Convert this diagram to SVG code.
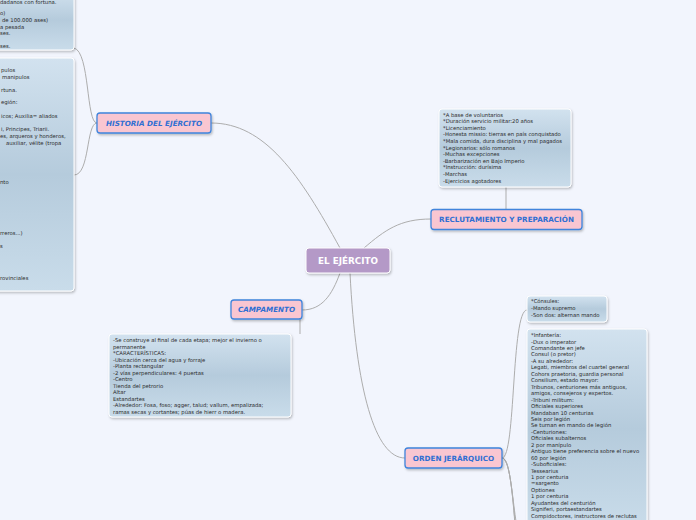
<svg xmlns="http://www.w3.org/2000/svg" width="696" height="520" viewBox="0 0 696 520">
<defs>
<linearGradient id="bx" x1="0" y1="0" x2="0" y2="1">
<stop offset="0" stop-color="#d2e2ef"/>
<stop offset="0.5" stop-color="#b5cbdc"/>
<stop offset="1" stop-color="#c9dcea"/>
</linearGradient>
<filter id="sh" x="-10%" y="-10%" width="130%" height="140%">
<feDropShadow dx="1" dy="1.5" stdDeviation="1" flood-color="#000" flood-opacity="0.25"/>
</filter>
</defs>
<style>
.bg{fill:#f2f5fd}
.box{fill:url(#bx);stroke:#ffffff;stroke-width:1;filter:url(#sh)}
.bt{font-family:"DejaVu Sans",Verdana,sans-serif;font-size:5.3px;fill:#2a2a2a}
.node{fill:#f9c6d1;stroke:#3f84dc;stroke-width:1.3;filter:url(#sh)}
.nt{font-family:"DejaVu Sans",Verdana,sans-serif;font-size:7.2px;font-weight:bold;fill:#2f6fd3;text-anchor:middle}
.it{font-style:italic}
.root{fill:#b499c7;stroke:#ffffff;stroke-width:1;filter:url(#sh)}
.rt{font-family:"DejaVu Sans",Verdana,sans-serif;font-size:8.8px;font-weight:bold;fill:#ffffff;text-anchor:middle}
.c{fill:none;stroke:#adadad;stroke-width:1}
</style>
<rect class="bg" x="0" y="0" width="696" height="520"/>

<g id="connectors">
<path class="c" d="M340,248 C 300,175 265,123 211,123"/>
<path class="c" d="M364,248 C 385,230 400,219 431,219"/>
<path class="c" d="M340,273 C 332,295 322,310 302,310"/>
<path class="c" d="M350,273 C 356,390 375,458 405,458"/>
<path class="c" d="M506,187 L506,209"/>
<path class="c" d="M300,319 L300,334"/>
<path class="c" d="M97,123 C 86,123 90,52 74,48"/>
<path class="c" d="M97,123 C 86,123 90,175 74,175"/>
<path class="c" d="M502,458 C 516,458 511,310 527,310"/>
<path class="c" d="M502,458 C 514,458 512,540 527,560"/>
<path class="c" d="M502,458 C 515,458 514,560 527,620"/>
<path class="c" d="M502,458 C 516,458 516,580 527,700"/>
</g>

<g id="box-historia-1">
<rect class="box" x="-10" y="-10" width="84" height="60" rx="3"/>
<text class="bt" x="0" y="4">dadanos con fortuna.</text>
<text class="bt" x="0" y="15">o)</text>
<text class="bt" x="2" y="22">de 100.000 ases)</text>
<text class="bt" x="0" y="29">a pesada</text>
<text class="bt" x="0" y="35">ses.</text>
<text class="bt" x="0" y="48">ses.</text>
</g>

<g id="box-historia-2">
<rect class="box" x="-10" y="58" width="84" height="233" rx="3"/>
<text class="bt" x="1" y="72">pulos</text>
<text class="bt" x="2" y="79">manipulos</text>
<text class="bt" x="1" y="92">rtuna.</text>
<text class="bt" x="1" y="104">egión:</text>
<text class="bt" x="1" y="118">icos; Auxilia= aliados</text>
<text class="bt" x="1" y="131">i, Principes, Triarii.</text>
<text class="bt" x="0" y="138">es, arqueros y honderos,</text>
<text class="bt" x="6" y="145">auxiliar, vélite (tropa</text>
<text class="bt" x="0" y="184">nto</text>
<text class="bt" x="0" y="235">rreros...)</text>
<text class="bt" x="0" y="248">s</text>
<text class="bt" x="0" y="280">rovinciales</text>
</g>

<g id="box-reclutamiento">
<rect class="box" x="439" y="109" width="132" height="78" rx="3"/>
<text class="bt" x="443" y="116.5">*A base de voluntarios</text>
<text class="bt" x="443" y="123.1">*Duración servicio militar:20 años</text>
<text class="bt" x="443" y="129.7">*Licenciamiento</text>
<text class="bt" x="443" y="136.3">-Honesta missio: tierras en país conquistado</text>
<text class="bt" x="443" y="142.9">*Mala comida, dura disciplina y mal pagados</text>
<text class="bt" x="443" y="149.5">*Legionarios: sólo romanos</text>
<text class="bt" x="443" y="156.1">-Muchas excepciones</text>
<text class="bt" x="443" y="162.7">-Barbarización en Bajo Imperio</text>
<text class="bt" x="443" y="169.3">*Instrucción: durísima</text>
<text class="bt" x="443" y="175.9">-Marchas</text>
<text class="bt" x="443" y="182.5">-Ejercicios agotadores</text>
</g>

<g id="box-campamento">
<rect class="box" x="109" y="334" width="182" height="83" rx="3"/>
<text class="bt" x="113" y="342">-Se construye al final de cada etapa; mejor el invierno o</text>
<text class="bt" x="113" y="348.5">permanente</text>
<text class="bt" x="113" y="355">*CARACTERÍSTICAS:</text>
<text class="bt" x="113" y="361.5">-Ubicación cerca del agua y forraje</text>
<text class="bt" x="113" y="368">-Planta rectangular</text>
<text class="bt" x="113" y="374.5">-2 vías perpendiculares: 4 puertas</text>
<text class="bt" x="113" y="381">-Centro</text>
<text class="bt" x="113" y="387.5">Tienda del petrorio</text>
<text class="bt" x="113" y="394">Altar</text>
<text class="bt" x="113" y="400.5">Estandartes</text>
<text class="bt" x="113" y="407">-Alrededor: Fosa, foso; agger, talud; vallum, empalizada;</text>
<text class="bt" x="113" y="413.5">ramas secas y cortantes; púas de hierr o madera.</text>
</g>

<g id="box-consules">
<rect class="box" x="527" y="296" width="80" height="26" rx="3"/>
<text class="bt" x="531" y="303">*Cónsules:</text>
<text class="bt" x="531" y="310">-Mando supremo</text>
<text class="bt" x="531" y="317">-Son dos: alternan mando</text>
</g>

<g id="box-infanteria">
<rect class="box" x="527" y="329" width="120" height="200" rx="3"/>
<text class="bt" x="531" y="337">*Infantería:</text>
<text class="bt" x="531" y="343.5">-Dux o imperator</text>
<text class="bt" x="531" y="350">Comandante en jefe</text>
<text class="bt" x="531" y="356.4">Consul (o pretor)</text>
<text class="bt" x="531" y="362.9">-A su alrededor:</text>
<text class="bt" x="531" y="369.3">Legati, miembros del cuartel general</text>
<text class="bt" x="531" y="375.8">Cohors praetoria, guardia personal</text>
<text class="bt" x="531" y="382.2">Consilium, estado mayor:</text>
<text class="bt" x="531" y="388.7">Tribunos, centuriones más antiguos,</text>
<text class="bt" x="531" y="395.1">amigos, consejeros y expertos.</text>
<text class="bt" x="531" y="401.6">-Tribuni militum:</text>
<text class="bt" x="531" y="408">Oficiales superiores</text>
<text class="bt" x="531" y="414.5">Mandaban 10 centurias</text>
<text class="bt" x="531" y="420.9">Seis por legión</text>
<text class="bt" x="531" y="427.4">Se turnan en mando de legión</text>
<text class="bt" x="531" y="433.8">-Centuriones:</text>
<text class="bt" x="531" y="440.3">Oficiales subalternos</text>
<text class="bt" x="531" y="446.7">2 por manípulo</text>
<text class="bt" x="531" y="453.2">Antiguo tiene preferencia sobre el nuevo</text>
<text class="bt" x="531" y="459.6">60 por legión</text>
<text class="bt" x="531" y="466.1">-Suboficiales:</text>
<text class="bt" x="531" y="472.5">Tessearius</text>
<text class="bt" x="531" y="479">1 por centuria</text>
<text class="bt" x="531" y="485.4">=sargento</text>
<text class="bt" x="531" y="491.9">Optiones</text>
<text class="bt" x="531" y="498.3">1 por centuria</text>
<text class="bt" x="531" y="504.8">Ayudantes del centurión</text>
<text class="bt" x="531" y="511.2">Signiferi, portaestandartes</text>
<text class="bt" x="531" y="517.7">Compidoctores, instructores de reclutas</text>
</g>

<g id="node-historia">
<rect class="node" x="97" y="113" width="114" height="20" rx="3"/>
<text class="nt it" x="154" y="125.6">HISTORIA DEL EJÉRCITO</text>
</g>

<g id="node-reclutamiento">
<rect class="node" x="431" y="209.5" width="151" height="20" rx="3"/>
<text class="nt" x="506.5" y="222.1">RECLUTAMIENTO Y PREPARACIÓN</text>
</g>

<g id="node-campamento">
<rect class="node" x="231" y="300" width="71" height="19" rx="3"/>
<text class="nt it" x="266.5" y="312.1">CAMPAMENTO</text>
</g>

<g id="node-orden">
<rect class="node" x="405" y="448" width="97" height="20" rx="3"/>
<text class="nt" x="453.5" y="460.6">ORDEN JERÁRQUICO</text>
</g>

<g id="node-root">
<rect class="root" x="306" y="248" width="84" height="25" rx="3"/>
<text class="rt" x="348" y="263.6">EL EJÉRCITO</text>
</g>
</svg>
